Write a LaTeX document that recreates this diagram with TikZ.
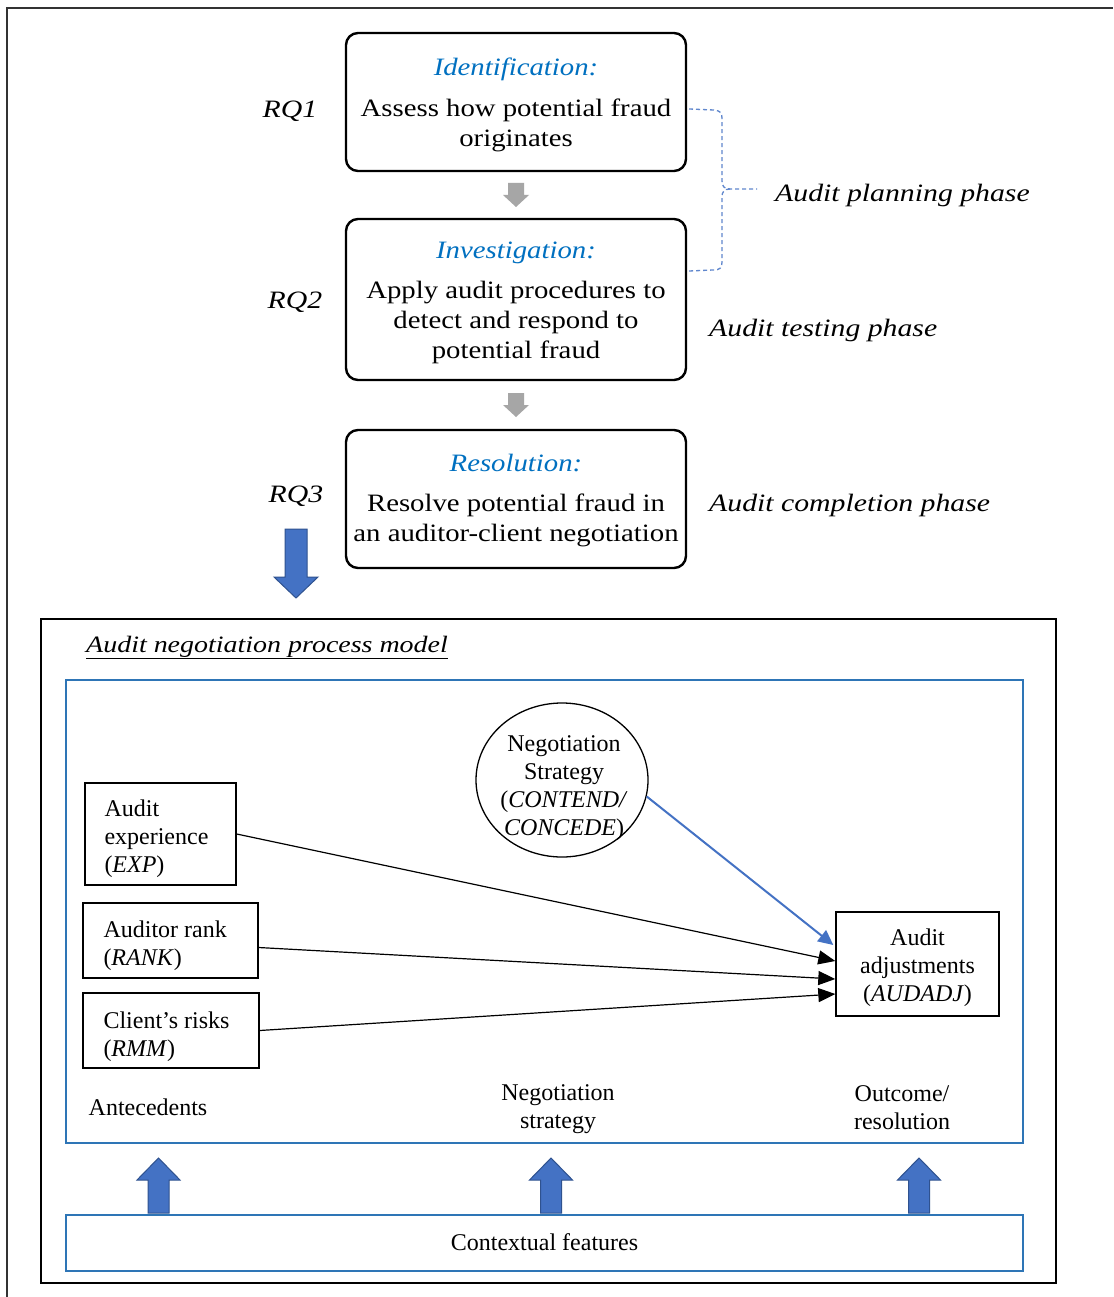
\documentclass[tikz,border=0pt]{standalone}
\usepackage{fontspec}
\setmainfont{Liberation Serif}
\newfontfamily\cambf{Liberation Serif}[FakeStretch=1.15]
\newfontfamily\cambi{Liberation Serif Italic}[FakeStretch=1.19]
\usetikzlibrary{shapes.geometric,arrows.meta,calc}
\definecolor{tblue}{HTML}{0070C0}
\definecolor{rblue}{HTML}{2E75B6}
\definecolor{ablue}{HTML}{4472C4}
\definecolor{adark}{HTML}{2F528F}
\definecolor{agrey}{HTML}{A6A6A6}
\begin{document}
\begin{tikzpicture}[x=1pt,y=-1pt,
  topfont/.style={font=\cambf\fontsize{25}{30}\selectfont},
  phfont/.style={font=\cambi\fontsize{25}{30}\selectfont},
  botfont/.style={font=\fontsize{24}{28}\selectfont},
  phasebox/.style={draw, line width=2.4, rounded corners=12, minimum width=340, inner sep=0},
  phasetext/.style={inner sep=0, align=center, topfont},
  blackbox/.style={draw, line width=1.4, inner sep=0},
  vartext/.style={inner sep=0, align=left, botfont},
  bluebox/.style={draw=rblue, line width=1.8, inner sep=0, minimum width=957},
  conn/.style={line width=1.2, -{Triangle[length=17,width=14]}},
  bconn/.style={draw=ablue, line width=2, -{Triangle[length=15,width=14]}},
  brace/.style={draw=ablue!85, line width=1.3, dash pattern=on 4 off 3},
  greyarrow/.style={fill=agrey},
  bluearrow/.style={fill=ablue, draw=adark, line width=1},
  uparrow/.pic={\path[bluearrow] (-10.5,0) -- (10.5,0) -- (10.5,-33) -- (21.5,-33) -- (0,-55) -- (-21.5,-33) -- (-10.5,-33) -- cycle;}
]
\useasboundingbox (0,0) rectangle (1113,1297);
\fill[white] (0,0) rectangle (1113,1297);
% outer frame
\draw[line width=2, black!80] (7,1297) -- (7,8) -- (1113,8);

% phase boxes
\node[phasebox, minimum height=138] (b1) at (516,102) {};
\node[phasebox, minimum height=161] (b2) at (516,299.5) {};
\node[phasebox, minimum height=138] (b3) at (516,499) {};
\node[phasetext] (b1t) at ($(b1)+(0,3)$)
  {{\itshape\color{tblue}Identification:}\\[11pt]Assess how potential fraud\\originates};
\node[phasetext] (b2t) at ($(b2)+(0,3)$)
  {{\itshape\color{tblue}Investigation:}\\[10pt]Apply audit procedures to\\detect and respond to\\potential fraud};
\node[phasetext] (b3t) at ($(b3)+(0,2)$)
  {{\itshape\color{tblue}Resolution:}\\[10pt]Resolve potential fraud in\\an auditor-client negotiation};

% grey arrows
\coordinate (g1) at ($(b1.south)!0.5!(b2.north)$);
\coordinate (g2) at ($(b2.south)!0.5!(b3.north)$);
\path[greyarrow, shift={(g1)}] (-8,-12) -- (8,-12) -- (8,0) -- (13,0) -- (0,12) -- (-13,0) -- (-8,0) -- cycle;
\path[greyarrow, shift={(g2)}] (-8,-12) -- (8,-12) -- (8,0) -- (13,0) -- (0,12) -- (-13,0) -- (-8,0) -- cycle;

% RQ labels
\node[phfont, anchor=base] (rq1) at (290,118) {RQ1};
\node[phfont, anchor=base] (rq2) at (295,308) {RQ2};
\node[phfont, anchor=base] (rq3) at (296,502) {RQ3};

% phase labels
\node[phfont, anchor=base west, inner sep=0] (p1) at (775,202) {Audit planning phase};
\node[phfont, anchor=base west, inner sep=0] (p2) at (709,336) {Audit testing phase};
\node[phfont, anchor=base west, inner sep=0] (p3) at (709,511) {Audit completion phase};

% brace
\coordinate (br1) at (689,109);
\coordinate (br2) at (689,271);
\coordinate (brt) at (757,189);
\draw[brace] (br1) -- (714,110) .. controls (721,111) and (722,113) .. (722,119) -- (722,181)
  .. controls (722,186) and (724,189) .. (730,189) -- (brt);
\draw[brace] (730,189) .. controls (724,189) and (722,192) .. (722,197) -- (722,262)
  .. controls (722,268) and (720,270) .. (713,270) -- (br2);

% big down arrow
\path[bluearrow] (285,529) -- (307,529) -- (307,577) -- (318,577) -- (296,598) -- (274,577) -- (285,577) -- cycle;

% model box
\node[draw, line width=1.3, minimum width=1015, minimum height=664, inner sep=0] (outer) at (548.5,951) {};
\node[font=\cambi\fontsize{23.5}{28}\selectfont, anchor=base west, inner sep=0] (mtitle) at (86,652) {\underline{Audit negotiation process model}};
\node[bluebox, minimum height=463] (inner) at (544.5,911.5) {};
\node[bluebox, minimum height=56] (ctx) at (544.5,1243) {};
\node[botfont] (ctxt) at (544.5,1242) {Contextual features};

% variables
\node[blackbox, minimum width=151, minimum height=102] (exp) at (160.5,834) {};
\node[blackbox, minimum width=175, minimum height=75] (rank) at (170.5,940.5) {};
\node[blackbox, minimum width=176, minimum height=75] (rmm) at (171,1030.5) {};
\node[blackbox, minimum width=163, minimum height=104] (adj) at (917.5,964) {};
\node[draw, ellipse, line width=1.3, minimum width=172, minimum height=154, inner sep=0] (ns) at (562,780) {};

\node[vartext, anchor=west] (expt) at ($(exp.west)+(20,5)$) {Audit\\experience\\(\textit{EXP})};
\node[vartext, anchor=west] (rankt) at ($(rank.west)+(21,5)$) {Auditor rank\\(\textit{RANK})};
\node[vartext, anchor=west] (rmmt) at ($(rmm.west)+(21,6)$) {Client's risks\\(\textit{RMM})};
\node[vartext, align=center] (adjt) at ($(adj)+(0,4)$) {Audit\\adjustments\\(\textit{AUDADJ})};
\node[vartext, align=center] (nst) at ($(ns)+(2,8)$) {Negotiation\\Strategy\\(\textit{CONTEND/}\\\textit{CONCEDE})};

% connectors
\draw[conn] (exp.east) -- ($(adj.west)+(0,-3)$);
\draw[conn] ($(rank.east)+(0,7)$) -- ($(adj.west)+(0,15)$);
\draw[conn] (rmm.east) -- ($(adj.west)+(0,30)$);
\draw[bconn] (ns.-11) -- ($(adj.west)+(-2,-19)$);

% bottom labels
\node[botfont] (l1) at (148,1107) {Antecedents};
\node[botfont, align=center] (l2) at (558,1109) {Negotiation\\strategy};
\node[botfont, align=center] (l3) at (902,1108) {Outcome/\\resolution};

% up arrows
\pic at (158.5,1213) {uparrow};
\pic at (551,1213) {uparrow};
\pic at (919,1213) {uparrow};
\end{tikzpicture}
\end{document}
